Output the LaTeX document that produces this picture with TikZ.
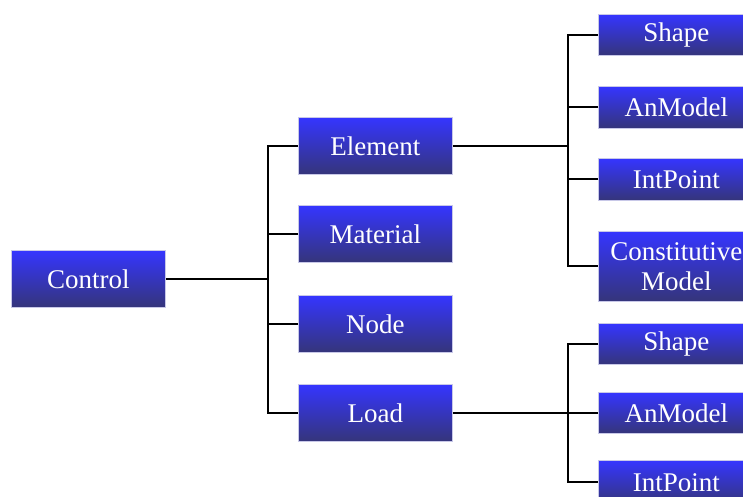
\documentclass[tikz,border=0pt]{standalone}
\usepackage{fontspec}
\setmainfont{Liberation Serif}
\definecolor{boxtop}{HTML}{3535FF}
\definecolor{boxbot}{HTML}{35357A}
\definecolor{boxedge}{HTML}{C8C8E8}
\tikzset{
  box/.style={draw=boxedge, line width=0.8pt, top color=boxtop, bottom color=boxbot,
    text=white, font=\fontsize{27}{30}\selectfont, align=center, inner sep=0pt, anchor=north west},
  lbox/.style={box, minimum width=154pt, minimum height=57pt},
  rbox/.style={box, minimum width=156pt, text width=150pt},
  link/.style={draw=black, line width=2pt},
}
\begin{document}
\begin{tikzpicture}[x=1pt,y=-1pt]
\useasboundingbox (0,0) rectangle (743,496);
\clip (0,0) rectangle (743,496);
% left column
\node[lbox] (control) at (11,250) {Control};
\node[lbox] (element) at (298,117) {Element};
\node[lbox] (material) at (298,205) {Material};
\node[lbox] (nodeb) at (298,295) {Node};
\node[lbox] (load) at (298,384) {Load};
% right column
\node[rbox, minimum height=41pt] (shape1) at (598,14) {Shape};
\node[rbox, minimum height=42pt] (anmodel1) at (598,86) {AnModel};
\node[rbox, minimum height=42pt] (intpoint1) at (598,158) {IntPoint};
\node[rbox, minimum height=70pt] (constmod) at (598,231) {Constitutive\\Model};
\node[rbox, minimum height=41pt] (shape2) at (598,323) {Shape};
\node[rbox, minimum height=41pt] (anmodel2) at (598,392) {AnModel};
\node[rbox, minimum height=44pt] (intpoint2) at (598,460) {IntPoint};
% bus coordinates
\coordinate (busA) at (268,0);
\coordinate (busB) at (568,0);
% connectors
\draw[link] (control.east) -- (busA |- control.east);
\draw[link] (element.west) -| (busA |- load.west) -- (load.west);
\draw[link] (material.west) -- (busA |- material.west);
\draw[link] (nodeb.west) -- (busA |- nodeb.west);
\draw[link] (element.east) -- (busB |- element.east);
\draw[link] (shape1.west) -| (busB |- constmod.west) -- (constmod.west);
\draw[link] (anmodel1.west) -- (busB |- anmodel1.west);
\draw[link] (intpoint1.west) -- (busB |- intpoint1.west);
\draw[link] (load.east) -- (busB |- load.east);
\draw[link] (shape2.west) -| (busB |- intpoint2.west) -- (intpoint2.west);
\draw[link] (anmodel2.west) -- (busB |- anmodel2.west);
\end{tikzpicture}
\end{document}
